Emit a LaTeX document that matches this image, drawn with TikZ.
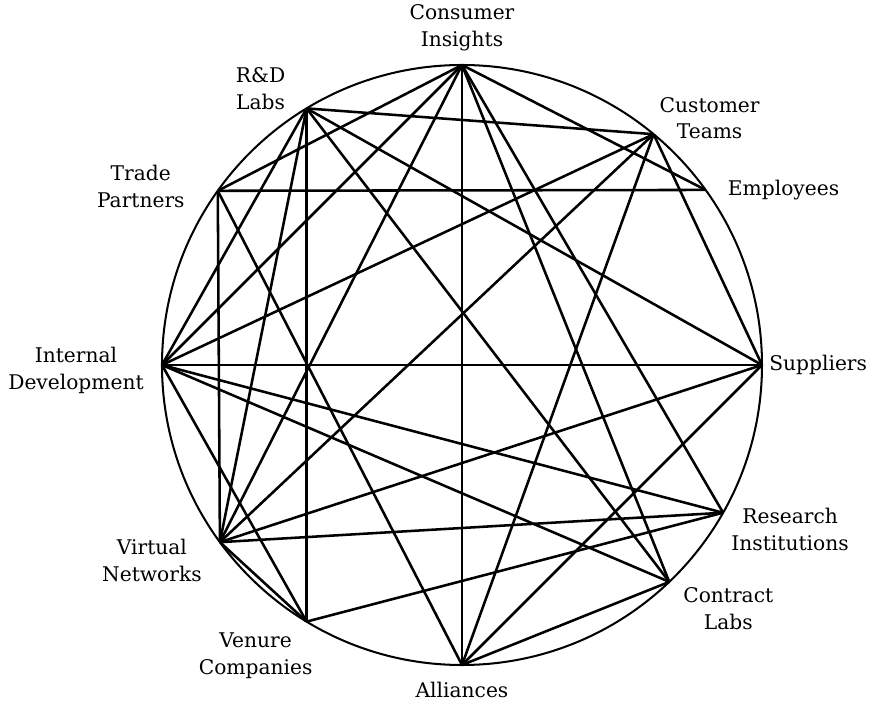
\documentclass[tikz,border=0pt]{standalone}
\usepackage{fontspec}
\setmainfont{DejaVu Serif}
\usepackage{tikz}
\usetikzlibrary{calc}

\begin{document}
\begin{tikzpicture}[ hub/.style={inner sep=0pt, minimum size=0pt},
      link/.style={line width=1.45pt, black}, rim/.style={line width=1.15pt,
      black}, lab/.style={align=center, inner sep=0pt,
      font=\fontsize{11.5pt}{15.3pt}\selectfont} ]

    \useasboundingbox (-9.24,-6.76) rectangle (8.36,7.30);

    % Outer circle
    \draw[rim] (0,0) circle (6);

    % Points on the circle
    \node[hub] (ci) at (90:6) {}; \node[hub] (rd) at (121.2:6) {};
    \node[hub] (ct) at (50.3:6) {}; \node[hub] (em) at (35.7:6) {};
    \node[hub] (tp) at (144.5:6) {}; \node[hub] (id) at (180:6) {};
    \node[hub] (su) at (0:6) {}; \node[hub] (ri) at (-29.5:6) {};
    \node[hub] (vn) at (-143.8:6) {}; \node[hub] (cl) at (-46.3:6) {};
    \node[hub] (vc) at (-121.2:6) {}; \node[hub] (al) at (-90:6) {};

    % Links
    \foreach \a/\b in {ci/tp, ci/id, ci/vn, ci/al, ci/cl, ci/ri, ci/em,
      rd/ct, rd/cl, rd/su, rd/vc, rd/vn, rd/id, ct/id, ct/vn, ct/al, ct/su,
      tp/em, tp/vn, tp/al, id/su, id/ri, id/cl, id/vc, su/vn, su/al, ri/vn,
      ri/vc, vn/vc, cl/al}
      \draw[link] (\a) -- (\b);

    % Labels
    \node[lab] (ci-lab) at ($(ci)+(0,0.74)$) {Consumer\\Insights};
    \node[lab] (rd-lab) at ($(rd)+(-0.92,0.40)$) {R\&D\\Labs};
    \node[lab] (ct-lab) at ($(ct)+(1.12,0.32)$) {Customer\\Teams};
    \node[lab, anchor=west] (em-lab) at ($(em)+(0.44,0)$) {Employees};
    \node[lab] (tp-lab) at ($(tp)+(-1.54,0.08)$) {Trade\\Partners};
    \node[lab] (id-lab) at ($(id)+(-1.72,-0.10)$) {Internal\\Development};
    \node[lab, anchor=west] (su-lab) at ($(su)+(0.14,0)$) {Suppliers};
    \node[lab] (ri-lab) at ($(ri)+(1.34,-0.34)$) {Research\\Institutions};
    \node[lab] (vn-lab) at ($(vn)+(-1.36,-0.36)$) {Virtual\\Networks};
    \node[lab] (cl-lab) at ($(cl)+(1.18,-0.54)$) {Contract\\Labs};
    \node[lab] (vc-lab) at ($(vc)+(-1.02,-0.68)$) {Venure\\Companies};
    \node[lab] (al-lab) at ($(al)+(0,-0.50)$) {Alliances};

\end{tikzpicture}
\end{document}
